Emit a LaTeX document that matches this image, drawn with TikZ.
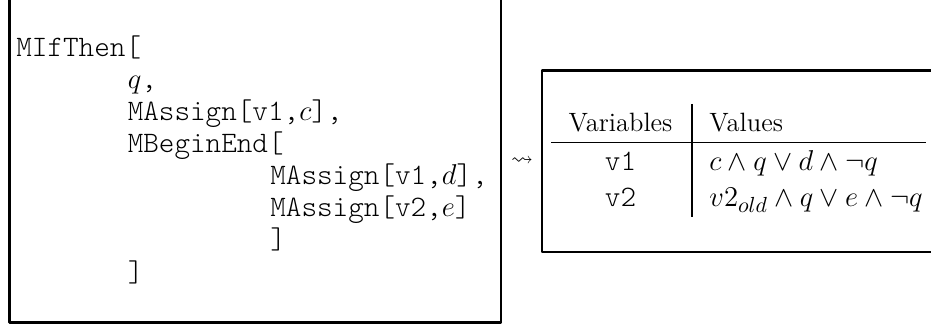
\documentclass[tikz,border=0pt]{standalone}
\usepackage{amsmath}
\usepackage{amssymb}
\usetikzlibrary{arrows}
\DeclareMathSizes{13.3}{13.3}{10.6}{8}
\newcommand{\mv}[1]{{\fontsize{13.3}{16}\selectfont$#1$}}

\begin{document}
\begin{tikzpicture}[line join=bevel,
    code/.style={anchor=base west,inner sep=0pt,font=\fontsize{14.9}{16}\fontseries{l}\ttfamily},
    cell/.style={anchor=base west,inner sep=0pt,font=\fontsize{13.3}{16}\selectfont},
    frame/.style={line width=1.1bp},
    rule/.style={line width=0.8bp}]
    %%
    \useasboundingbox (0bp,0bp) rectangle (465.5bp,164.5bp);
    \clip (0bp,0bp) rectangle (465.5bp,164.5bp);
    %% program
    \draw [frame] (4.75bp,3.25bp) rectangle (250.5bp,170bp);
      \node[code] (ifthen) at (8bp,136bp) {MIfThen[};
      \node[code] (cond) at (63.7bp,120bp) {\mv{q},};
      \node[code] (asgnc) at (63.7bp,104bp) {MAssign[v1,\mv{c}],};
      \node[code] (beginend) at (63.7bp,88bp) {MBeginEnd[};
      \node[code] (asgnd) at (135bp,72bp) {MAssign[v1,\mv{d}],};
      \node[code] (asgne) at (135bp,56bp) {MAssign[v2,\mv{e}]};
      \node[code] (closeinner) at (135bp,40bp) {]};
      \node[code] (closeouter) at (63.7bp,24bp) {]};
    %% result
    \node[font=\fontsize{11}{13}\selectfont] (leads) at (261bp,83.75bp) {$\leadsto$};
    \draw [frame] (271bp,38.5bp) rectangle (480bp,129.25bp);
      \node[cell,anchor=base] (hvar) at (310.25bp,98.5bp) {Variables};
      \node[cell] (hval) at (354.5bp,98.5bp) {Values};
      \node[code,anchor=base] (vone) at (310.25bp,79bp) {v1};
      \node[cell] (valone) at (354.5bp,79bp) {$c \land q \lor d \land \neg q$};
      \node[code,anchor=base] (vtwo) at (310.25bp,61bp) {v2};
      \node[cell] (valtwo) at (354.5bp,61bp) {$v2_{old} \land q \lor e \land \neg q$};
      \draw [rule] (275.5bp,93.2bp) -- (463bp,93.2bp);
      \draw [rule] (346bp,112.5bp) -- (346bp,55.9bp);
    %
\end{tikzpicture}
\end{document}
